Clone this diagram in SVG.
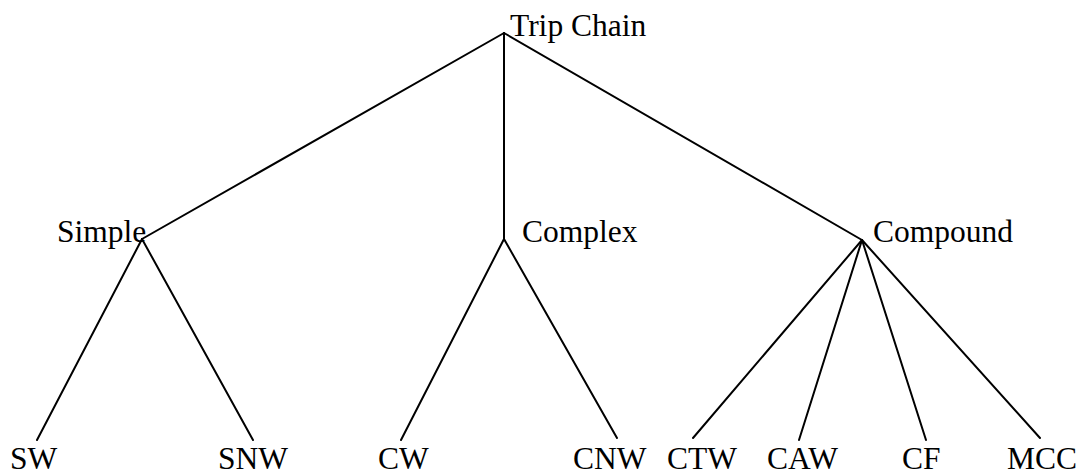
<svg xmlns="http://www.w3.org/2000/svg" width="1079" height="471" viewBox="0 0 1079 471">
<style>
text{font-family:"Liberation Serif","Times New Roman",serif;font-size:31.5px;fill:#000}
.c line{stroke:#000;stroke-width:2;stroke-linecap:round}
</style>
<rect width="1079" height="471" fill="#fff"/>
<g class="c" id="connectors">
<line x1="504" y1="33" x2="142" y2="239"/>
<line x1="504" y1="33" x2="504" y2="239"/>
<line x1="504" y1="33" x2="862" y2="240"/>
<line x1="142" y1="239" x2="37" y2="440"/>
<line x1="142" y1="239" x2="253" y2="440"/>
<line x1="504" y1="239" x2="401" y2="440"/>
<line x1="504" y1="239" x2="617" y2="438"/>
<line x1="862" y1="240" x2="693" y2="438"/>
<line x1="862" y1="240" x2="799" y2="440"/>
<line x1="862" y1="240" x2="926" y2="440"/>
<line x1="862" y1="240" x2="1040" y2="438"/>
</g>
<g id="trip-chain"><text x="510" y="36">Trip Chain</text></g>
<g id="simple"><text x="57" y="242">Simple</text></g>
<g id="complex"><text x="522" y="242">Complex</text></g>
<g id="compound"><text x="873" y="242">Compound</text></g>
<g id="sw"><text x="10" y="469">SW</text></g>
<g id="snw"><text x="218" y="469">SNW</text></g>
<g id="cw"><text x="378" y="469">CW</text></g>
<g id="cnw"><text x="573" y="469">CNW</text></g>
<g id="ctw"><text x="667" y="469">CTW</text></g>
<g id="caw"><text x="767" y="469">CAW</text></g>
<g id="cf"><text x="902" y="469">CF</text></g>
<g id="mcc"><text x="1007" y="469">MCC</text></g>
</svg>
